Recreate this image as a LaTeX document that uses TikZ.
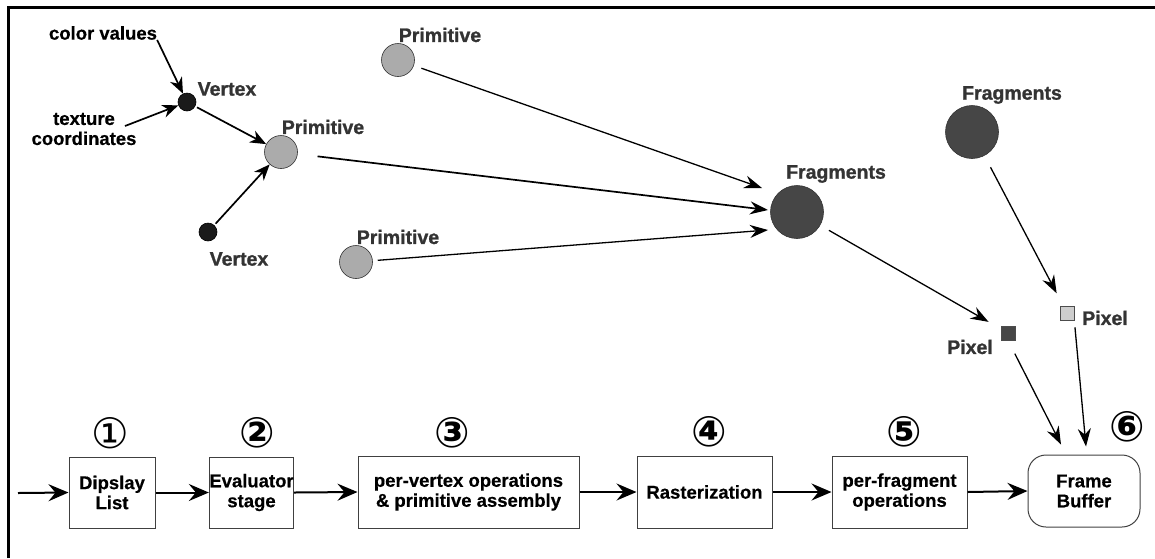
\documentclass[tikz,border=0pt]{standalone}
\usepackage{fontspec}
\setmainfont{Liberation Sans}
\newfontface\heavyfont{Liberation Sans Bold}[FakeBold=1.2]
\newfontface\semifont{Liberation Sans Bold}[FakeBold=0.5]
\newfontfamily\circfont{DejaVu Sans}
\usetikzlibrary{arrows.meta,calc}
\definecolor{vtx}{HTML}{1A1A1A}
\definecolor{prim}{HTML}{ABABAB}
\definecolor{frag}{HTML}{464646}
\definecolor{pixl}{HTML}{CDCDCD}
\definecolor{lbl}{HTML}{333333}
\begin{document}
\begin{tikzpicture}[x=1pt,y=-1pt,
  every node/.style={font=\semifont\fontsize{18.5}{20}\selectfont},
  vertexdot/.style={circle,fill=vtx,draw=black,line width=0.6pt,minimum size=18pt,inner sep=0pt},
  primdot/.style={circle,fill=prim,draw=black!80,line width=0.6pt,minimum size=33pt,inner sep=0pt},
  fragdot/.style={circle,fill=frag,draw=black!80,line width=0.6pt,minimum size=53pt,inner sep=0pt},
  pixsq/.style={rectangle,draw=black!70,line width=0.6pt,minimum size=14pt,inner sep=0pt},
  lab/.style={text=lbl,inner sep=0pt,font=\heavyfont\fontsize{19.5}{20}\selectfont},
  txt/.style={text=black,inner sep=0pt,align=center},
  stage/.style={draw=black!75,line width=1pt,align=center,font=\semifont\fontsize{18.5}{20}\selectfont,inner sep=0pt},
  num/.style={font=\circfont\fontsize{42}{42}\selectfont,inner sep=0pt},
  numb/.style={font=\circfont\bfseries\fontsize{42}{42}\selectfont,inner sep=0pt},
  arr/.style={line width=1.3pt,-{Stealth[length=18pt,width=13pt,inset=6pt]}},
  varr/.style={line width=1.7pt,-{Stealth[length=16pt,width=13pt,inset=5pt]}},
  pipe/.style={line width=2pt,-{Stealth[length=20pt,width=17pt,inset=7pt]}},
]
\useasboundingbox (0,0) rectangle (1155,558);
% frame
\draw[line width=3pt] (8.5,558) -- (8.5,7.5) -- (1155,7.5);

% top graph nodes
\node[vertexdot] (V1) at (187,102) {};
\node[vertexdot] (V2) at (208,232) {};
\node[primdot] (P1) at (281,152) {};
\node[primdot] (P2) at (398,60) {};
\node[primdot] (P3) at (356,262) {};
\node[fragdot] (F1) at (797,212) {};
\node[fragdot] (F2) at (972,132) {};
\node[pixsq,fill=frag] (X1) at (1008,333) {};
\node[pixsq,fill=pixl] (X2) at (1067,313) {};

% labels
\node[txt] (cv) at (103,33) {color values};
\node[txt] (tc) at (84,129) {texture\\coordinates};
\coordinate (tcout) at (125,126);
\node[lab] (LV1) at (227,89) {Vertex};
\node[lab] (LV2) at (239,259) {Vertex};
\node[lab] (LP1) at (323,127) {Primitive};
\node[lab] (LP2) at (440,35) {Primitive};
\node[lab] (LP3) at (398,237) {Primitive};
\node[lab] (LF1) at (836,174) {Fragments};
\node[lab] (LF2) at (1012,95) {Fragments};
\node[lab] (LX1) at (970,347) {Pixel};
\node[lab] (LX2) at (1105,318) {Pixel};

% bottom pipeline
\coordinate (in) at (18,493);
\node[stage,minimum width=86pt,minimum height=71pt] (B1) at (112,492.5) {Dipslay\\List};
\node[stage,minimum width=83pt,minimum height=71pt] (B2) at (251.5,492.5) {Evaluator\\stage};
\node[stage,minimum width=221pt,minimum height=72pt] (B3) at (468.5,492) {per-vertex operations\\\& primitive assembly};
\node[stage,minimum width=135pt,minimum height=72pt] (B4) at (704.5,492) {Rasterization};
\node[stage,minimum width=135pt,minimum height=72pt] (B5) at (899.5,492) {per-fragment\\operations};
\node[stage,rounded corners=18pt,minimum width=112pt,minimum height=72pt] (FB) at (1084,491) {Frame\\Buffer};

\node[num] (n1) at (110,433) {①};
\node[numb] (n2) at (257,433) {②};
\node[numb] (n3) at (452,433) {③};
\node[numb] (n4) at (709,432) {④};
\node[numb] (n5) at (904,432) {⑤};
\node[numb] (n6) at (1127,427) {⑥};

% connectors
\draw[varr] (cv.south east) -- (V1);
\draw[varr] (tcout) -- (V1);
\draw[varr,shorten <=2pt] (V1) -- (P1);
\draw[varr,shorten <=2pt] (V2) -- (P1);
\draw[arr,line width=1.7pt,shorten <=20pt] (P1) -- ($(F1)+(-29,-2)$);
\draw[arr,shorten <=8pt] (P2) -- ($(F1)+(-35,-24)$);
\draw[arr,shorten <=5pt] (P3) -- ($(F1)+(-29,18)$);
\draw[arr,shorten <=10pt,shorten >=14pt] (F1) -- (X1);
\draw[arr,shorten <=13pt,shorten >=14pt] (F2) -- (X2);
\draw[arr,shorten <=15pt] (X1.south) -- ($(FB.north)+(-23,-10)$);
\draw[arr,shorten <=7pt] (X2.south east) -- ($(FB.north)+(2,-8)$);

\draw[pipe] (in) -- (B1.west);
\draw[pipe] (B1.east) -- (B2.west);
\draw[pipe] (B2.east) -- (B3.west);
\draw[pipe] (B3.east) -- (B4.west);
\draw[pipe] (B4.east) -- (B5.west);
\draw[pipe] (B5.east) -- (FB.west);
\end{tikzpicture}
\end{document}
